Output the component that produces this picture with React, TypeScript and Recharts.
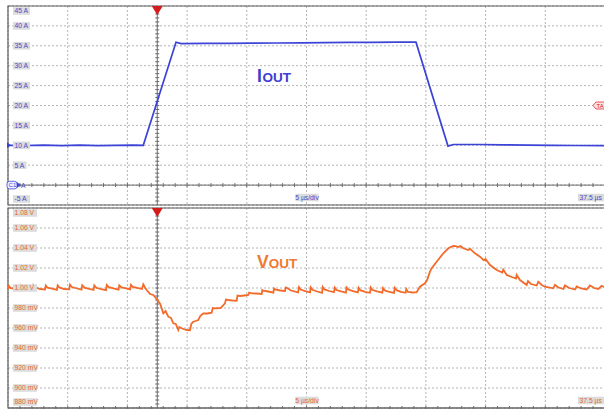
import React from 'react';
import {
    LineChart, Line, XAxis, YAxis, CartesianGrid, ReferenceLine, ReferenceDot, ReferenceArea,
} from 'recharts';

// time axis in µs, trigger at 0 (5 µs/div)
const timeTicks = [-12.5, -7.5, -2.5, 2.5, 7.5, 12.5, 17.5, 22.5, 27.5, 32.5, 37.5];
const ampTicks = [45, 40, 35, 30, 25, 20, 15, 10, 5, 0, -5];
const voltTicks = [1.08, 1.06, 1.04, 1.02, 1.0, 0.98, 0.96, 0.94, 0.92, 0.9, 0.88];

// IOUT trace
const iTime = [
    -12.5, -11, -9.5, -8, -6.5, -5, -3.5, -2, -1.17,
    1.57, 2.0, 4, 6, 8, 10, 12, 14, 16, 18, 20, 21.67,
    24.35, 24.8, 27, 29, 31, 33, 35, 37.5,
];
const iAmps = [
    10.0, 9.95, 10.05, 9.9, 10.05, 9.9, 10.0, 10.05, 10.0,
    35.9, 35.55, 35.6, 35.6, 35.65, 35.7, 35.75, 35.8, 35.85, 35.85, 35.9, 35.9,
    9.8, 10.2, 10.2, 10.1, 10.05, 10.0, 9.95, 9.9,
];

// VOUT trace
const vTime = [
    -12.5, -12.42, -12.3, -11.9, -11.5,
    -11.44, -11.3, -10.9, -10.45,
    -10.38, -10.25, -9.8, -9.4,
    -9.34, -9.2, -8.8, -8.4,
    -8.34, -8.2, -7.8, -7.37,
    -7.31, -7.15, -6.7, -6.34,
    -6.28, -6.1, -5.7, -5.33,
    -5.27, -5.1, -4.7, -4.29,
    -4.23, -4.05, -3.6, -3.24,
    -3.18, -3.0, -2.6, -2.26,
    -2.2, -2.05, -1.6, -1.28,
    -1.17, -1.0, -0.85, -0.6, -0.33, -0.05, 0.25,
    0.51, 0.7, 0.925, 1.15, 1.344, 1.55, 1.763, 1.85, 2.047, 2.2, 2.466, 2.743,
    2.85, 3.019, 3.2, 3.438, 3.6, 3.856, 4.2, 4.56, 4.65, 4.836, 5.3, 5.674,
    5.75, 5.95, 6.3, 6.654, 6.72, 6.93, 7.3, 7.625, 7.7, 7.91, 8.3, 8.747,
    8.8, 8.881, 9.3, 9.719, 9.78, 9.861, 10.3, 10.699, 10.76, 10.84,
    11.2, 11.8, 11.87, 12.0, 12.4, 12.8,
    12.85, 13.0, 13.4, 13.8,
    13.86, 14.0, 14.4, 14.8,
    14.87, 15.0, 15.4, 15.8,
    15.85, 16.0, 16.4, 16.8,
    16.87, 17.0, 17.4, 17.82,
    17.88, 18.0, 18.4, 18.85,
    18.91, 19.05, 19.45, 19.83,
    19.89, 20.05, 20.4, 20.8,
    20.86, 21.0, 21.4, 21.73,
    22.0, 22.42, 22.6, 22.84, 22.98, 23.4, 23.96, 24.38, 24.79,
    25.0, 25.21, 25.4, 25.63, 26.05, 26.2, 26.61, 27.03, 27.31, 27.5, 27.87, 28.43,
    28.9, 28.98, 29.27, 29.7, 30.05, 30.1, 30.38, 30.94, 31.05, 31.3, 31.78, 31.91,
    32.2, 32.47, 33.17, 33.31, 33.6, 34.01, 34.15, 34.5, 34.99, 35.13, 35.5, 35.97, 36.24, 36.6, 36.94, 37.22, 37.5,
];
const vVolts = [
    0.9990, 1.0022, 1.0000, 0.9990, 0.9982,
    1.0026, 1.0005, 0.9992, 0.9980,
    1.0028, 1.0008, 0.9990, 0.9984,
    1.0024, 1.0004, 0.9994, 0.9982,
    1.0026, 1.0006, 0.9990, 0.9986,
    1.0034, 1.0010, 0.9995, 0.9984,
    1.0028, 1.0004, 0.9992, 0.9982,
    1.0026, 1.0002, 0.9988, 0.9978,
    1.0030, 1.0008, 0.9994, 0.9984,
    1.0026, 1.0006, 0.9996, 0.9986,
    1.0032, 1.0010, 0.9998, 0.9990,
    1.0036, 1.0000, 0.9975, 0.9940, 0.9930, 0.9890, 0.9840,
    0.9747, 0.9770, 0.9713, 0.9700, 0.9647, 0.9640, 0.9580, 0.9610, 0.9597, 0.9590, 0.9580, 0.9578,
    0.9640, 0.9663, 0.9670, 0.9680, 0.9720, 0.9747, 0.9745, 0.9753, 0.9800, 0.9797, 0.9800, 0.9847,
    0.9885, 0.9880, 0.9875, 0.9873, 0.9925, 0.9920, 0.9925, 0.9930, 0.9955, 0.9947, 0.9945, 0.9940,
    0.9980, 0.9973, 0.9965, 0.9953, 0.9995, 0.9987, 0.9975, 0.9970, 1.0006, 1.0002,
    0.9975, 0.9957, 1.0008, 0.9985, 0.9968, 0.9957,
    1.0006, 0.9982, 0.9965, 0.9952,
    1.0010, 0.9986, 0.9970, 0.9958,
    1.0004, 0.9980, 0.9966, 0.9954,
    1.0006, 0.9984, 0.9968, 0.9956,
    1.0002, 0.9978, 0.9962, 0.9952,
    1.0004, 0.9982, 0.9966, 0.9954,
    1.0000, 0.9976, 0.9960, 0.9950,
    1.0002, 0.9978, 0.9962, 0.9952,
    0.9990, 0.9960, 0.9955, 0.9958,
    1.0013, 1.0047, 1.0080, 1.0163, 1.0197, 1.0263, 1.0347, 1.0397, 1.0420,
    1.0418, 1.0410, 1.0420, 1.0397, 1.0380, 1.0392, 1.0347, 1.0313, 1.0280, 1.0290, 1.0230, 1.0180,
    1.0155, 1.0185, 1.0130, 1.0110, 1.0095, 1.0130, 1.0080, 1.0030, 1.0068, 1.0040, 1.0025, 1.0063,
    1.0030, 1.0013, 0.9997, 1.0032, 1.0005, 0.9990, 1.0026, 1.0000, 0.9985, 1.0016, 0.9995, 0.9985, 1.0026, 1.0000, 0.9990, 1.0022, 1.0005,
];

const iData = iTime.map((t, k) => ({ t, amps: iAmps[k] }));
const vData = vTime.map((t, k) => ({ t, volts: vVolts[k] }));

const BLUE = '#3b44d6';
const ORANGE = '#f26b2a';
const BLUE_TXT = '#4a4ac8';
const ORANGE_TXT = '#e8692a';
const FONT = '"Liberation Sans", Arial, sans-serif';

const TOP_PANEL = { top: 6, bottom: 205 };
const BOT_PANEL = { top: 6, bottom: 206 }; // inside the second chart's svg

const fmtAmps = (v: number) => `${v} A`;
const fmtVolts = (v: number) => (v >= 0.999 ? `${v.toFixed(2)} V` : `${Math.round(v * 1000)} mV`);

// value labels sit inside the plot on a grey box
const makeYTick = (color: string, panel: { top: number; bottom: number }, fmt: (v: number) => string) =>
    (props: any) => {
        const { y, payload } = props;
        const cy = Math.min(Math.max(y, panel.top + 5), panel.bottom - 6);
        if (payload.value === 0) {
            // the C1 marker hides the "0", only the unit shows after it
            return <text x={21} y={cy + 2.4} fontSize={6.8} fontFamily={FONT} fill={color}>A</text>;
        }
        const label = fmt(payload.value);
        const w = label.length * 3.5 + 3;
        return (
            <g>
                <rect x={13} y={cy - 3.8} width={w} height={7.6} fill="#dcdcdc" />
                <text x={14.5} y={cy + 2.4} fontSize={6.8} fontFamily={FONT} fill={color}>{label}</text>
            </g>
        );
    };

const makeXTick = (color: string, panel: { top: number; bottom: number }) =>
    (props: any) => {
        const { x, payload } = props;
        const cy = panel.bottom - 7.5;
        if (payload.value === 12.5) {
            return (
                <g>
                    <rect x={x - 11} y={cy - 3.8} width={23} height={7.6} fill="#dcdcdc" />
                    <text x={x + 0.5} y={cy + 2.4} fontSize={6.8} fontFamily={FONT} fill={color} textAnchor="middle">5 µs/div</text>
                </g>
            );
        }
        if (payload.value === 37.5) {
            return (
                <g>
                    <rect x={x - 27} y={cy - 3.8} width={26} height={7.6} fill="#dcdcdc" />
                    <text x={x - 25.5} y={cy + 2.4} fontSize={6.8} fontFamily={FONT} fill={color}>37.5 µs</text>
                </g>
            );
        }
        return <g />;
    };

// solid graticule axis with minor ticks (5 per division)
const hAxisShape = (p: any) => {
    const x1 = Math.min(p.x1, p.x2);
    const x2 = Math.max(p.x1, p.x2);
    const y = p.y1;
    const step = (x2 - x1) / 50;
    const marks = [];
    for (let k = 1; k < 50; k++) {
        marks.push(<line key={k} x1={x1 + k * step} x2={x1 + k * step} y1={y - 2} y2={y + 2} />);
    }
    return (
        <g stroke="#6a6a6a" strokeWidth={1}>
            <line x1={x1} x2={x2} y1={y} y2={y} />
            {marks}
        </g>
    );
};

const vAxisShape = (p: any) => {
    const y1 = Math.min(p.y1, p.y2);
    const y2 = Math.max(p.y1, p.y2);
    const x = p.x1;
    const step = (y2 - y1) / 50;
    const marks = [];
    for (let k = 1; k < 50; k++) {
        marks.push(<line key={k} x1={x - 2} x2={x + 2} y1={y1 + k * step} y2={y1 + k * step} />);
    }
    return (
        <g stroke="#6a6a6a" strokeWidth={1}>
            <line x1={x} x2={x} y1={y1} y2={y2} />
            {marks}
        </g>
    );
};

const triggerShape = (p: any) => (
    <polygon points={`${p.cx - 5.5},${p.cy} ${p.cx + 5.5},${p.cy} ${p.cx},${p.cy + 9}`} fill="#d41c1c" />
);

const taShape = (p: any) => {
    const { cx, cy } = p;
    return (
        <g>
            <polygon
                points={`${cx - 12},${cy} ${cx - 9},${cy - 3.5} ${cx + 2},${cy - 3.5} ${cx + 2},${cy + 3.5} ${cx - 9},${cy + 3.5}`}
                fill="#fde2e2" stroke="#e03030" strokeWidth={0.8}
            />
            <text x={cx - 8.5} y={cy + 2.2} fontSize={6} fontFamily={FONT} fill="#d02020">TA</text>
        </g>
    );
};

const c1Shape = (p: any) => {
    const { cx, cy } = p;
    return (
        <g>
            <rect x={cx - 1} y={cy - 3.8} width={10} height={7.6} rx={2.5} fill="#eef0ff" stroke={BLUE} strokeWidth={0.8} />
            <text x={cx + 0.6} y={cy + 2.2} fontSize={6} fontFamily={FONT} fill={BLUE}>C1</text>
            <polygon points={`${cx + 9},${cy - 3} ${cx + 12.5},${cy} ${cx + 9},${cy + 3}`} fill={BLUE} />
        </g>
    );
};

const levelShape = (p: any) => (
    <polygon points={`${p.cx - 1},${p.cy - 3} ${p.cx + 3},${p.cy} ${p.cx - 1},${p.cy + 3}`} fill={BLUE} />
);

export default function App() {
    return (
        <div style={{ position: 'fixed', left: 0, top: 0, width: 604, height: 409, overflow: 'hidden', background: '#fff' }}>
            <div style={{ position: 'absolute', left: 0, top: 0 }}>
                <LineChart width={606} height={206} data={iData} margin={{ top: 6, right: 1, bottom: 1, left: 8 }}>
                    <CartesianGrid stroke="#b4b4b4" strokeDasharray="2 2" />
                    <XAxis
                        type="number" dataKey="t" domain={[-12.5, 37.5]} ticks={timeTicks} interval={0} mirror
                        axisLine={false} tickLine={false} tick={makeXTick(BLUE_TXT, TOP_PANEL)}
                    />
                    <YAxis
                        type="number" domain={[-5, 45]} ticks={ampTicks} interval={0} allowDataOverflow mirror
                        axisLine={false} tickLine={false} tick={makeYTick(BLUE_TXT, TOP_PANEL, fmtAmps)}
                    />
                    <ReferenceArea x1={-12.5} x2={37.5} y1={-5} y2={45} fill="none" stroke="#5a5a5a" strokeWidth={1.2} />
                    <ReferenceLine y={0} shape={hAxisShape} />
                    <ReferenceLine x={0} shape={vAxisShape} />
                    <Line type="linear" dataKey="amps" stroke={BLUE} strokeWidth={1.7} dot={false} isAnimationActive={false} />
                    <ReferenceDot x={0} y={45} r={0} ifOverflow="visible" shape={triggerShape} />
                    <ReferenceDot x={37.5} y={20} r={0} ifOverflow="visible" shape={taShape} />
                    <ReferenceDot x={-12.5} y={0} r={0} ifOverflow="visible" shape={c1Shape} />
                    <ReferenceDot x={-12.5} y={10} r={0} ifOverflow="visible" shape={levelShape} />
                </LineChart>
            </div>
            <div style={{ position: 'absolute', left: 0, top: 202 }}>
                <LineChart width={606} height={207} data={vData} margin={{ top: 6, right: 1, bottom: 1, left: 8 }}>
                    <CartesianGrid stroke="#b4b4b4" strokeDasharray="2 2" />
                    <XAxis
                        type="number" dataKey="t" domain={[-12.5, 37.5]} ticks={timeTicks} interval={0} mirror
                        axisLine={false} tickLine={false} tick={makeXTick(ORANGE_TXT, BOT_PANEL)}
                    />
                    <YAxis
                        type="number" domain={[0.88, 1.08]} ticks={voltTicks} interval={0} allowDataOverflow mirror
                        axisLine={false} tickLine={false} tick={makeYTick(ORANGE_TXT, BOT_PANEL, fmtVolts)}
                    />
                    <ReferenceArea x1={-12.5} x2={37.5} y1={0.88} y2={1.08} fill="none" stroke="#5a5a5a" strokeWidth={1.2} />
                    <ReferenceLine y={0.88} shape={hAxisShape} />
                    <ReferenceLine x={0} shape={vAxisShape} />
                    <Line type="linear" dataKey="volts" stroke={ORANGE} strokeWidth={1.8} dot={false} isAnimationActive={false} />
                    <ReferenceDot x={0} y={1.08} r={0} ifOverflow="visible" shape={triggerShape} />
                </LineChart>
            </div>
            <svg width={604} height={409} style={{ position: 'absolute', left: 0, top: 0, pointerEvents: 'none' }}>
                <text x={257} y={82} fontFamily={FONT} fontWeight="bold" fill="#3d3dd0">
                    <tspan fontSize={17.5}>I</tspan>
                    <tspan fontSize={13.5} dx={0.5}>OUT</tspan>
                </text>
                <text x={257} y={268} fontFamily={FONT} fontWeight="bold" fill="#f07a30">
                    <tspan fontSize={17.5}>V</tspan>
                    <tspan fontSize={13.5}>OUT</tspan>
                </text>
            </svg>
        </div>
    );
}
